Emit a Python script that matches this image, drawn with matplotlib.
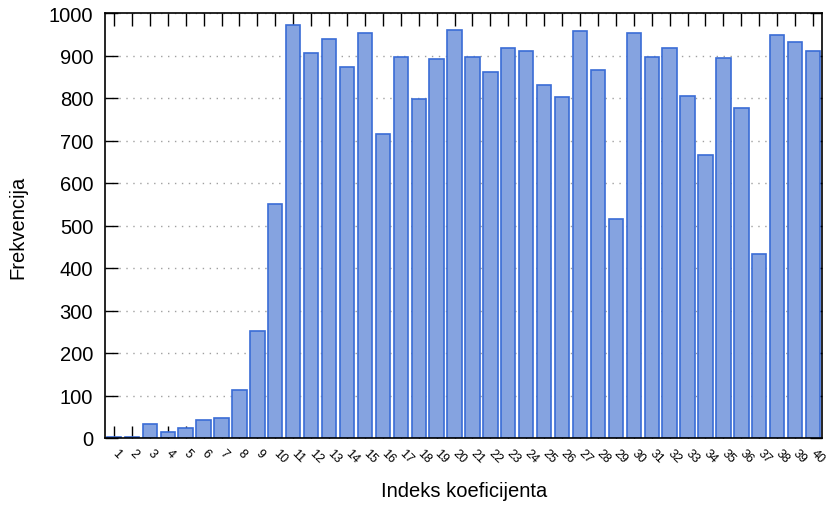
import numpy as np
import matplotlib.pyplot as plt

plt.rcParams['font.family'] = ['Liberation Sans', 'DejaVu Sans']

# frequency of each coefficient index
indices = list(range(1, 41))
freq = [2, 2, 34, 13, 23, 43, 47, 112, 252, 551,
        972, 906, 940, 872, 953, 716, 897, 797, 891, 961,
        896, 862, 917, 911, 831, 802, 957, 866, 515, 952,
        896, 918, 804, 667, 893, 776, 433, 949, 932, 911]

fig = plt.figure(figsize=(8.26, 5.06), dpi=100)
ax = fig.add_axes([105/826, 1 - 439/506, (822 - 105)/826, (439 - 14)/506])

ax.bar(indices, freq, width=0.8, color='#85a3e0', edgecolor='#3a6cd6',
       linewidth=1.2, zorder=3)

ax.set_xlim(0.5, 40.5)
ax.set_ylim(0, 1000)
ax.set_yticks(np.arange(0, 1001, 100))
ax.set_xticks(indices)
ax.set_xticklabels([str(i) for i in indices], rotation=-45, ha='left',
                   va='center', rotation_mode='anchor', fontsize=9)
ax.tick_params(axis='x', direction='in', top=True, length=9, width=1, pad=9)
ax.tick_params(axis='y', direction='in', right=True, length=9, width=1,
               labelsize=14.5, pad=8.5)
ax.grid(axis='y', linestyle=(0, (1, 4)), color='#a0a0a0', linewidth=1, zorder=0)
for s in ax.spines.values():
    s.set_linewidth(1.2)
    s.set_zorder(4)

fig.text(18/826, 1 - 227/506, 'Frekvencija', rotation=90, ha='center',
         va='center', fontsize=14.5)
fig.text(464/826, 1 - 492/506, 'Indeks koeficijenta', ha='center',
         va='center', fontsize=14.5)

fig.savefig('out.png', dpi=100)
